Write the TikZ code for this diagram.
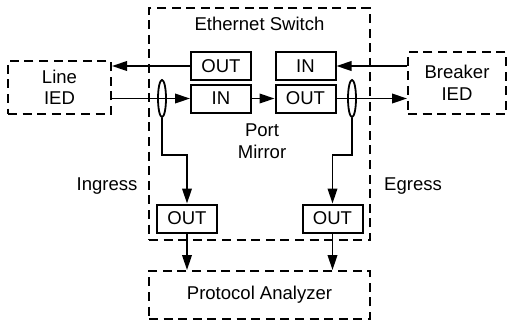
\documentclass[tikz,border=0pt]{standalone}
\usepackage{fontspec}
\setmainfont{Liberation Sans}
\usetikzlibrary{arrows.meta,shapes.geometric}

\begin{document}
\begin{tikzpicture}[x=0.5bp,y=-0.5bp,>={Triangle[length=7.5bp,width=4.8bp]},
font=\fontsize{9.3}{10.8}\selectfont,
db/.style={draw,dash pattern=on 4.5bp off 2.8bp,line width=1bp,align=center,inner sep=0pt},
pb/.style={draw,line width=1bp,minimum width=30bp,minimum height=14bp,inner sep=0pt},
tp/.style={draw,ellipse,line width=0.9bp,minimum width=4bp,minimum height=18.5bp,inner sep=0pt},
ar/.style={->,line width=0.9bp}]
\useasboundingbox (0,0) rectangle (511,320);
% dashed blocks
\node[db,minimum width=110.5bp,minimum height=116bp] (sw) at (259.5,124) {};
\node (swl) at (259.5,24) {Ethernet Switch};
\node[db,minimum width=51.5bp,minimum height=26.5bp] (lied) at (59.5,87.5) {Line\\IED};
\node[db,minimum width=49bp,minimum height=31bp] (bied) at (457,83) {Breaker\\IED};
\node[db,minimum width=110.5bp,minimum height=24bp] (pa) at (259.5,295) {Protocol Analyzer};
% ports
\node[pb] (o1) at (221,66) {OUT};
\node[pb] (i1) at (305.5,66) {IN};
\node[pb] (i2) at (221,98.5) {IN};
\node[pb] (o2) at (305.5,98.5) {OUT};
\node[pb] (o3) at (187,218.5) {OUT};
\node[pb] (o4) at (332.5,218.5) {OUT};
\node[tp] (e1) at (162,98.5) {};
\node[tp] (e2) at (352,98.5) {};
\node[align=center] (pm) at (262,141) {Port\\Mirror};
\node (ing) at (107,186) {Ingress};
\node (egr) at (413,186) {Egress};
% links
\draw[ar] (o1.west) -- (lied.east |- o1.west);
\draw[ar] (bied.west |- i1.east) -- (i1.east);
\draw[ar] (lied.east |- i2.west) -- (i2.west);
\draw[ar] (i2) -- (o2);
\draw[ar] (o2.east) -- (bied.west |- o2.east);
\coordinate (b1) at (162,155); \coordinate (b2) at (352,155);
\draw[ar] (e1.south) -- (b1) -| (o3.north);
\draw[ar] (e2.south) -- (b2) -| (o4.north);
\draw[ar] (o3.south) -- (o3.south |- pa.north);
\draw[ar] (o4.south) -- (o4.south |- pa.north);
\end{tikzpicture}
\end{document}
